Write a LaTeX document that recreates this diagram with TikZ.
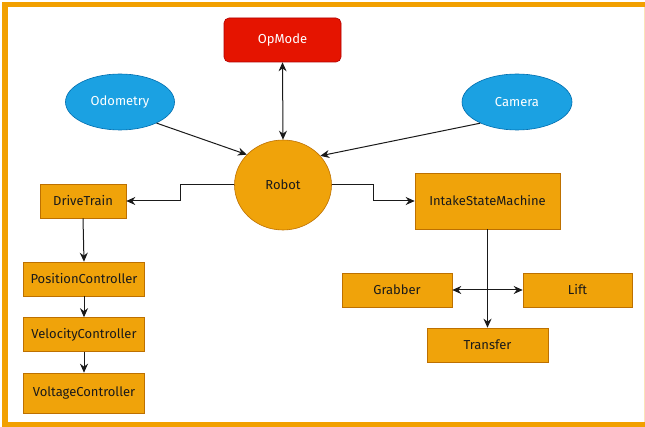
\documentclass[tikz,border=0pt]{standalone}
\usepackage{fontspec}
\setmainfont{Fira Sans}
\usetikzlibrary{arrows.meta,shapes.geometric}
\definecolor{orfill}{HTML}{F0A30A}
\definecolor{ordraw}{HTML}{BD7000}
\definecolor{blfill}{HTML}{1BA1E2}
\definecolor{bldraw}{HTML}{006EAF}
\definecolor{rdfill}{HTML}{E51400}
\definecolor{rddraw}{HTML}{B20000}
\definecolor{frame}{HTML}{F2A000}
\definecolor{framelt}{HTML}{FBE3B8}
\definecolor{txt}{HTML}{1A1A1A}
\tikzset{
  lbl/.style={font=\fontsize{13}{15}\selectfont},
  box/.style={rectangle, fill=orfill, draw=ordraw, line width=0.6pt, inner sep=0pt, lbl, text=txt},
  oval/.style={ellipse, fill=blfill, draw=bldraw, line width=0.6pt, inner sep=0pt, text=white, lbl},
  tip/.style={Stealth[length=9pt,width=8pt]},
  conn/.style={draw=txt, line width=1pt, -{Stealth[length=9pt,width=8pt]}},
  bconn/.style={draw=txt, line width=1pt, {Stealth[length=9pt,width=8pt]}-{Stealth[length=9pt,width=8pt]}}
}
\begin{document}
\begin{tikzpicture}[x=1pt,y=-1pt]
\useasboundingbox (0,0) rectangle (645,427);
\fill[white] (0,0) rectangle (645,427);
% frame
\fill[frame] (2,2) rectangle (645,7);
\fill[frame] (2,2) rectangle (8,427);
\fill[frame] (2,422) rectangle (645,427);
\draw[framelt, line width=1pt] (644,7) -- (644,422);
% nodes
\node[rectangle, rounded corners=5pt, fill=rdfill, draw=rddraw, line width=0.6pt, minimum width=117pt, minimum height=44pt, text=white, lbl] (opmode) at (282.5,40) {OpMode};
\node[oval, minimum width=109pt, minimum height=56pt] (odo) at (120,102) {Odometry};
\node[oval, minimum width=110pt, minimum height=56pt] (cam) at (517,102) {Camera};
\node[ellipse, fill=orfill, draw=ordraw, line width=0.6pt, minimum width=97pt, minimum height=90pt, inner sep=0pt, text=txt, lbl] (robot) at (283,185) {Robot};
\node[box, minimum width=86pt, minimum height=34pt] (dt) at (83,201) {DriveTrain};
\node[box, minimum width=121pt, minimum height=34pt] (pos) at (84,279) {PositionController};
\node[box, minimum width=121pt, minimum height=34pt] (vel) at (84,334.5) {VelocityController};
\node[box, minimum width=121pt, minimum height=40pt] (volt) at (84,393) {VoltageController};
\node[box, minimum width=145pt, minimum height=56pt] (ism) at (487.5,201) {IntakeStateMachine};
\node[box, minimum width=110pt, minimum height=34pt] (grab) at (397,290) {Grabber};
\node[box, minimum width=109pt, minimum height=34pt] (lift) at (577.5,290) {Lift};
\node[box, minimum width=121pt, minimum height=34pt] (tr) at (487.5,345) {Transfer};
% connectors
\draw[conn] (odo.-30) -- (robot.140);
\draw[conn] (cam.-150) -- (robot.38);
\draw[bconn] (opmode.south) -- (robot.north);
\draw[conn] (robot.west) -- (180,185) -- (180,201) -- (dt.east);
\draw[conn] (robot.east) -- (373,185) -- (373,201) -- (ism.west);
\draw[conn] (dt.south) -- (pos.north);
\draw[conn] (pos.south) -- (vel.north);
\draw[conn] (vel.south) -- (volt.north);
\draw[conn] (ism.south) -- (tr.north);
\draw[bconn] (grab.east) -- (lift.west);
\end{tikzpicture}
\end{document}
